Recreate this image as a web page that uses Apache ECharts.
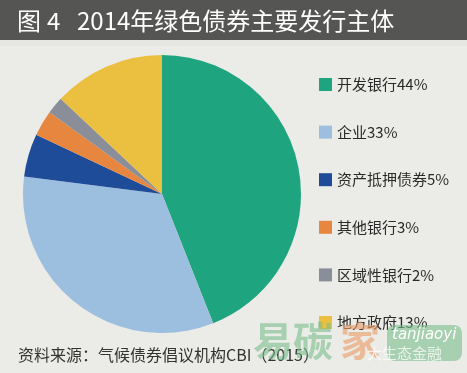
<!DOCTYPE html>
<html><head><meta charset="utf-8">
<script src="https://cdn.jsdelivr.net/npm/echarts@6/dist/echarts.min.js"></script>
<style>html,body{margin:0;padding:0;background:#ebebe7}#c{width:467px;height:373px}</style>
</head><body><div id="c"></div>
<script>
const categories = ['开发银行','企业','资产抵押债券','其他银行','区域性银行','地方政府'];
const values = [44, 33, 5, 3, 2, 13];
const colors = ['#1fa480','#9dbfdf','#1e4c98','#e7863f','#8a8e99','#ebbf40'];
const titleParts = ['图', '4', '2014年绿色债券主要发行主体'];
const sourceText = '资料来源：气候债券倡议机构CBI（2015）';

const chart = echarts.init(document.getElementById('c'));
const titleFont = '24px "Noto Sans CJK SC"';
chart.setOption({
  backgroundColor: '#ebebe7',
  animation: false,
  color: colors,
  legend: {
    orient: 'vertical', left: 314, top: 72,
    itemWidth: 13, itemHeight: 13, itemGap: 32.6,
    icon: 'rect',
    formatter: n => n + values[categories.indexOf(n)] + '%',
    textStyle: { fontSize: 15, color: '#2a2a2a', fontFamily: 'Noto Sans CJK SC' },
    data: categories
  },
  graphic: [
    { type: 'rect', left: 0, top: 0, shape: { width: 467, height: 40 }, style: { fill: '#555554' } },
    { type: 'rect', left: 0, top: 40, shape: { width: 467, height: 6 }, style: { fill: '#e6e6e2' } },
    { type: 'text', x: 17, y: 21, style: { text: titleParts[0], fill: '#ffffff', font: titleFont, verticalAlign: 'middle' } },
    { type: 'text', x: 47, y: 21, style: { text: titleParts[1], fill: '#ffffff', font: titleFont, verticalAlign: 'middle' } },
    { type: 'text', x: 77, y: 21, style: { text: titleParts[2], fill: '#ffffff', font: titleFont, verticalAlign: 'middle' } },
    { type: 'text', x: 18, y: 355, style: { text: sourceText, fill: '#333333', font: '16px "Noto Sans CJK SC"', verticalAlign: 'middle' } },
    { type: 'text', x: 253, y: 341, z: 10, style: { text: '易碳', fill: 'rgba(120,190,140,0.6)', font: 'bold 40px "Noto Sans CJK SC"', verticalAlign: 'middle' } },
    { type: 'text', x: 340, y: 341, z: 10, style: { text: '家', fill: 'rgba(235,160,110,0.65)', font: 'bold 40px "Noto Sans CJK SC"', verticalAlign: 'middle' } },
    { type: 'rect', left: 387, top: 325, z: 10, shape: { width: 75, height: 36, r: 8 }, style: { fill: 'rgba(120,190,140,0.6)' } },
    { type: 'text', x: 392, y: 335, z: 11, style: { text: 'tanjiaoyi', fill: '#ffffff', font: 'italic 15px "DejaVu Sans"', verticalAlign: 'middle' } },
    { type: 'text', x: 367, y: 353, z: 11, style: { text: '大生态金融', fill: 'rgba(255,255,255,0.75)', font: '15px "Noto Sans CJK SC"', verticalAlign: 'middle' } }
  ],
  series: [{
    type: 'pie',
    center: [162, 194],
    radius: [0, 139],
    startAngle: 90,
    clockwise: true,
    label: { show: false },
    labelLine: { show: false },
    itemStyle: { borderWidth: 0 },
    emphasis: { disabled: true },
    data: categories.map((c, i) => ({ name: c, value: values[i] }))
  }]
});
</script></body></html>
